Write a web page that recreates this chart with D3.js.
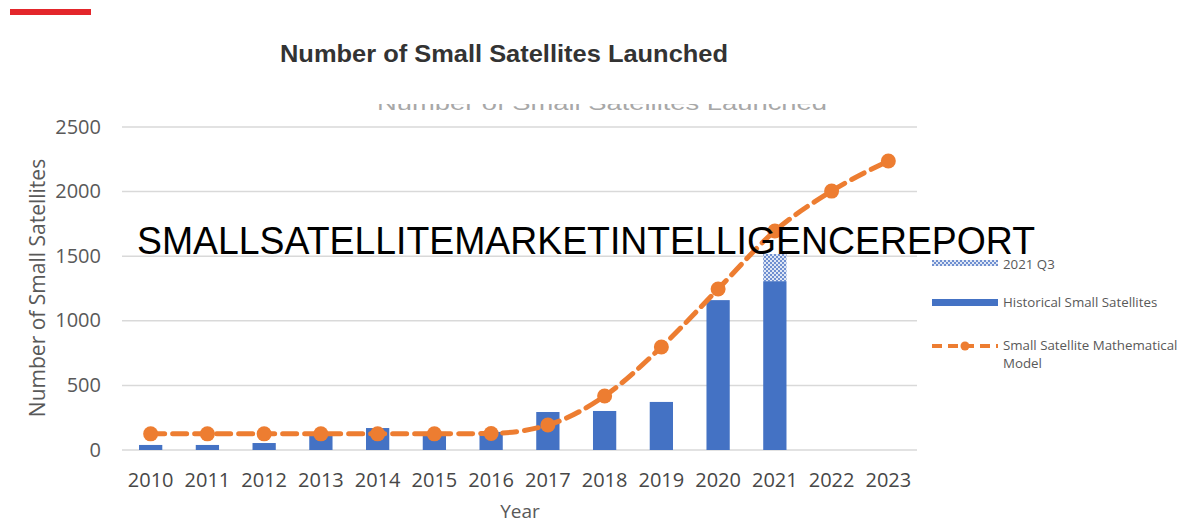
<!DOCTYPE html>
<html><head><meta charset="utf-8">
<script src="https://cdn.jsdelivr.net/npm/d3@7/dist/d3.min.js"></script>
<style>body{margin:0;background:#fff;}svg{display:block;}</style>
</head><body>
<svg id="c" width="1180" height="524"></svg>
<script>
const years = ["2010","2011","2012","2013","2014","2015","2016","2017","2018","2019","2020","2021","2022","2023"];
const historical = [39,39,54,124,170,140,140,294,302,372,1160,1307,null,null];
const q3Extra = [0,0,0,0,0,0,0,0,0,0,0,210,0,0];
const model = [125,125,125,125,125,125,128,193,418,797,1246,1695,2004,2237];
const yTicks = [0,500,1000,1500,2000,2500];

const svg = d3.select("#c");
const W = 1180, H = 524;
const x = d3.scaleBand().domain(years).range([122, 917]).paddingInner(0.59).paddingOuter(0.3);
const xc = d => x(d) + x.bandwidth()/2;
const y = d3.scaleLinear().domain([0,2500]).range([450,127]);
const blue = "#4472C4", orange = "#ED7D31";
const font = "Open Sans, sans-serif";

// hatch pattern
const defs = svg.append("defs");
const pat = defs.append("pattern").attr("id","hatch").attr("patternUnits","userSpaceOnUse").attr("width",4).attr("height",4);
pat.append("rect").attr("width",4).attr("height",4).attr("fill","#dfe7f5");
pat.append("rect").attr("width",2).attr("height",2).attr("fill","#6f8fd0");
pat.append("rect").attr("x",2).attr("y",2).attr("width",2).attr("height",2).attr("fill","#6f8fd0");
defs.append("clipPath").attr("id","ghostclip").append("rect").attr("x",0).attr("y",104).attr("width",W).attr("height",6);

// red bar
svg.append("rect").attr("x",10).attr("y",9).attr("width",81).attr("height",6).attr("fill","#E3262B");

// title
svg.append("text").attr("x",504).attr("y",62).attr("text-anchor","middle")
  .attr("font-family","Liberation Sans, Arial, sans-serif").attr("font-weight","bold")
  .attr("font-size",24).attr("fill","#333").attr("textLength",448).attr("lengthAdjust","spacingAndGlyphs")
  .text("Number of Small Satellites Launched");
// ghost title (cut off at top)
svg.append("text").attr("x",602).attr("y",110).attr("text-anchor","middle").attr("clip-path","url(#ghostclip)")
  .attr("font-family","Liberation Sans, Arial, sans-serif")
  .attr("font-size",21).attr("fill","#a8a8a8").attr("textLength",450).attr("lengthAdjust","spacingAndGlyphs")
  .text("Number of Small Satellites Launched");

// grid
const grid = svg.append("g");
grid.selectAll("line").data(yTicks).join("line")
  .attr("x1",122).attr("x2",917).attr("y1",d=>y(d)).attr("y2",d=>y(d))
  .attr("stroke","#d9d9d9").attr("stroke-width",1.5);

// y axis labels
const yAxis = d3.axisLeft(y).tickValues(yTicks).tickSize(0).tickPadding(0).tickFormat(d3.format("d"));
const ya = svg.append("g").attr("transform","translate(101,0)").call(yAxis);
ya.select(".domain").remove();
ya.selectAll("text").attr("font-family",font).attr("font-size",20).attr("fill","#595959").attr("dy","0.3em");

// x axis labels
const xAxis = d3.axisBottom(x).tickSize(0).tickPadding(0);
const xa = svg.append("g").attr("transform","translate(0,473)").call(xAxis);
xa.select(".domain").remove();
xa.selectAll("text").attr("font-family",font).attr("font-size",20).attr("fill","#474747").attr("dy","0.71em");

// axis titles
svg.append("text").attr("transform","translate(45,288) rotate(-90)").attr("text-anchor","middle")
  .attr("font-family",font).attr("font-size",21).attr("fill","#595959")
  .text("Number of Small Satellites");
svg.append("text").attr("x",520).attr("y",518).attr("text-anchor","middle")
  .attr("font-family",font).attr("font-size",19).attr("fill","#595959").text("Year");

// bars
const bars = svg.append("g");
bars.selectAll("rect.h").data(years.map((d,i)=>({d,v:historical[i]})).filter(o=>o.v!=null)).join("rect")
  .attr("class","h").attr("x",o=>x(o.d)).attr("width",x.bandwidth())
  .attr("y",o=>y(o.v)).attr("height",o=>y(0)-y(o.v)).attr("fill",blue);
bars.selectAll("rect.q").data(years.map((d,i)=>({d,b:historical[i]||0,v:q3Extra[i]})).filter(o=>o.v>0)).join("rect")
  .attr("class","q").attr("x",o=>x(o.d)).attr("width",x.bandwidth())
  .attr("y",o=>y(o.b+o.v)).attr("height",o=>y(o.b)-y(o.b+o.v)).attr("fill","url(#hatch)");

// model line
const line = d3.line().x((d,i)=>xc(years[i])).y(d=>y(d)).curve(d3.curveMonotoneX);
svg.append("path").datum(model).attr("d",line).attr("fill","none").attr("stroke",orange)
  .attr("stroke-width",5).attr("stroke-dasharray","14,8").attr("stroke-linecap","round");
svg.append("g").selectAll("circle").data(model).join("circle")
  .attr("cx",(d,i)=>xc(years[i])).attr("cy",d=>y(d)).attr("r",7.5).attr("fill",orange);

// legend
const lg = svg.append("g").attr("font-family",font).attr("font-size",13.3).attr("fill","#595959");
lg.append("rect").attr("x",932).attr("y",260).attr("width",66).attr("height",6).attr("fill","url(#hatch)");
lg.append("text").attr("x",1003).attr("y",269).text("2021 Q3");
lg.append("rect").attr("x",932).attr("y",299).attr("width",66).attr("height",7).attr("fill",blue);
lg.append("text").attr("x",1003).attr("y",307).text("Historical Small Satellites");
lg.append("line").attr("x1",932).attr("x2",998).attr("y1",346).attr("y2",346).attr("stroke",orange)
  .attr("stroke-width",4).attr("stroke-dasharray","10,6");
lg.append("circle").attr("cx",965).attr("cy",346).attr("r",4.5).attr("fill",orange);
lg.append("text").attr("x",1003).attr("y",350).text("Small Satellite Mathematical");
lg.append("text").attr("x",1003).attr("y",368).text("Model");

// watermark
svg.append("text").attr("x",137).attr("y",254)
  .attr("font-family","Liberation Sans, Arial, sans-serif").attr("font-size",38).attr("fill","#000")
  .attr("textLength",898).attr("lengthAdjust","spacingAndGlyphs")
  .text("SMALLSATELLITEMARKETINTELLIGENCEREPORT");
</script>
</body></html>
